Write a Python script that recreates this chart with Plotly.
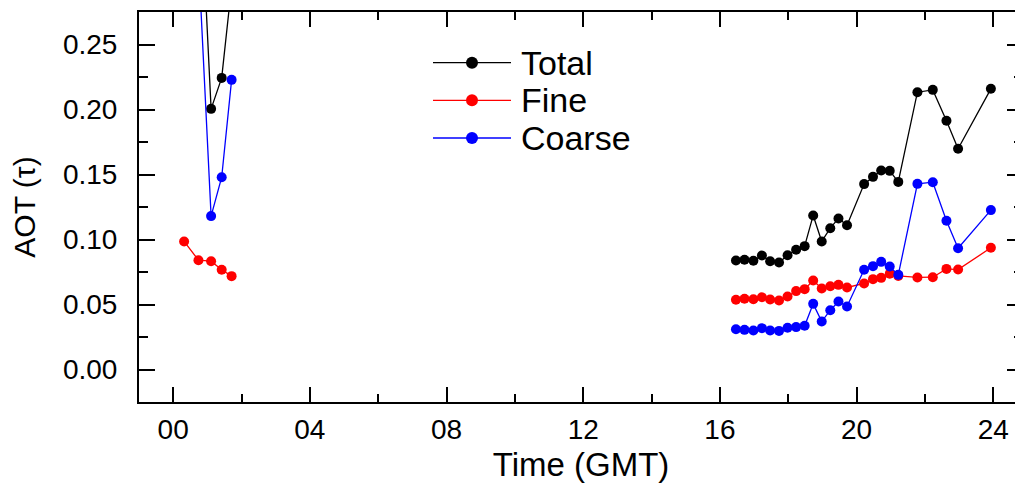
import plotly.graph_objects as go

# ---- data ----
time_morning = [0.32, 0.74, 1.11, 1.42, 1.71]
total_morning = [None, 0.400, 0.2005, 0.2243, 0.295]
fine_morning = [0.0985, 0.0841, 0.0833, 0.0767, 0.0718]
coarse_morning = [None, 0.316, 0.118, 0.1479, 0.2228]

time_evening = [16.47, 16.72, 16.98, 17.23, 17.47, 17.73, 17.98, 18.23, 18.48, 18.73,
                18.98, 19.23, 19.47, 19.72, 20.22, 20.48, 20.72, 20.97, 21.22, 21.78,
                22.23, 22.63, 22.97, 23.93]
total_evening = [0.0838, 0.0844, 0.0836, 0.0877, 0.0833, 0.0823, 0.0879, 0.0921, 0.0949, 0.1185,
                 0.0985, 0.1087, 0.1162, 0.1110, 0.1426, 0.1482, 0.1531, 0.1528, 0.1443, 0.2133,
                 0.2151, 0.1913, 0.1698, 0.2159]
fine_evening = [0.0536, 0.0544, 0.0541, 0.0556, 0.0538, 0.0531, 0.0562, 0.0603, 0.0618, 0.0685,
                0.0623, 0.0641, 0.0651, 0.0631, 0.0662, 0.0695, 0.0705, 0.0736, 0.0720, 0.0708,
                0.0710, 0.0774, 0.0769, 0.0936]
coarse_evening = [0.0310, 0.0305, 0.0300, 0.0318, 0.0300, 0.0297, 0.0321, 0.0326, 0.0336, 0.0505,
                  0.0369, 0.0456, 0.0523, 0.0485, 0.0767, 0.0795, 0.0828, 0.0792, 0.0728, 0.1428,
                  0.1441, 0.1144, 0.0933, 0.1226]

series_names = ["Total", "Fine", "Coarse"]
series_colors = ["#000000", "#ff0000", "#0000ff"]
x_tick_vals = [0, 4, 8, 12, 16, 20, 24]
x_tick_text = ["00", "04", "08", "12", "16", "20", "24"]
y_tick_vals = [0.00, 0.05, 0.10, 0.15, 0.20, 0.25]

FONT = "Liberation Sans, Arial, Helvetica, sans-serif"

morning = [total_morning, fine_morning, coarse_morning]
evening = [total_evening, fine_evening, coarse_evening]

fig = go.Figure()
for name, color, ym, ye in zip(series_names, series_colors, morning, evening):
    x = time_morning + [None] + time_evening
    y = ym + [None] + ye
    fig.add_trace(go.Scatter(
        x=x, y=y, mode="lines+markers", name=name,
        line=dict(color=color, width=1.3),
        marker=dict(color=color, size=10),
        connectgaps=False, showlegend=False,
    ))

# page body has an 8px margin: figure is drawn 8px right/down of the window origin
OFF = 8
FIG_W, FIG_H = 1023 - OFF, 487 - OFF
L, R, T, B = 139 - OFF, 1023 - OFF, 12 - OFF, 402 - OFF   # plot area in figure pixels
W, H = R - L, B - T
def px(xw):
    return (xw - OFF - L) / W
def py(yw):
    return (B - (yw - OFF)) / H

legend_rows = [62.7, 100.3, 138.0]
for name, color, yy in zip(series_names, series_colors, legend_rows):
    fig.add_shape(type="line", xref="paper", yref="paper",
                  x0=px(433), x1=px(511), y0=py(yy), y1=py(yy),
                  line=dict(color=color, width=1.3))
    fig.add_shape(type="circle", xref="paper", yref="paper",
                  xsizemode="pixel", ysizemode="pixel",
                  xanchor=px(472), yanchor=py(yy),
                  x0=-6, x1=6, y0=-6, y1=6,
                  fillcolor=color, line=dict(color=color, width=0))
    fig.add_annotation(x=px(519), y=py(yy), xref="paper", yref="paper",
                       text=name, showarrow=False, xanchor="left", yanchor="middle",
                       font=dict(family=FONT, size=34, color="#000000"))

axis_common = dict(
    showline=True, linecolor="#000000", linewidth=2,
    mirror="ticks", ticks="inside", tickcolor="#000000", tickwidth=2,
    showgrid=False, zeroline=False, automargin=False,
    tickfont=dict(family=FONT, size=28, color="#000000"),
)

fig.update_xaxes(
    range=[-1, 24.87], tickvals=x_tick_vals, ticktext=x_tick_text, ticklen=15,
    minor=dict(dtick=2, tick0=0, ticks="inside", ticklen=8, tickwidth=2, tickcolor="#000000", showgrid=False),
    title=dict(text="Time (GMT)", font=dict(family=FONT, size=33, color="#000000"), standoff=9),
    ticklabelstandoff=1,
    **axis_common,
)
fig.update_yaxes(
    range=[-0.025, 0.275], tickvals=y_tick_vals, tickformat=".2f", ticklen=16,
    minor=dict(dtick=0.025, tick0=0, ticks="inside", ticklen=9, tickwidth=2, tickcolor="#000000", showgrid=False),
    title=dict(text="AOT (τ)", font=dict(family=FONT, size=30, color="#000000"), standoff=19),
    ticklabelstandoff=14,
    **axis_common,
)

fig.update_layout(
    width=FIG_W, height=FIG_H,
    margin=dict(l=L, r=FIG_W - R, t=T, b=FIG_H - B, pad=0),
    paper_bgcolor="#ffffff", plot_bgcolor="#ffffff",
    showlegend=False,
)

fig.write_html("out.html")
